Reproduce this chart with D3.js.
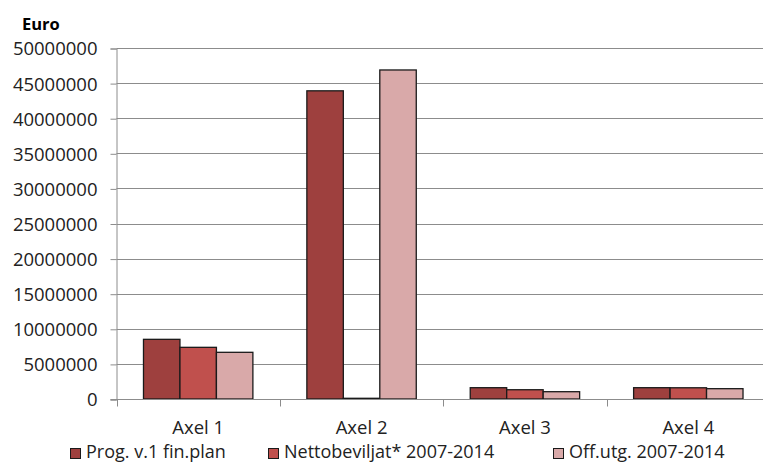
<!DOCTYPE html>
<html><head><meta charset="utf-8">
<script src="https://cdn.jsdelivr.net/npm/d3@7"></script>
<style>body{margin:0;background:#fff}svg{display:block}</style>
</head><body>
<script>
const categories = ["Axel 1", "Axel 2", "Axel 3", "Axel 4"];
const seriesNames = ["Prog. v.1 fin.plan", "Nettobeviljat* 2007-2014", "Off.utg. 2007-2014"];
const progValues = [8500000, 43900000, 1610000, 1610000];
const nettoValues = [7360000, 100000, 1320000, 1600000];
const offValues = [6650000, 46870000, 1040000, 1470000];
const yTicks = [0, 5000000, 10000000, 15000000, 20000000, 25000000, 30000000, 35000000, 40000000, 45000000, 50000000];
const colors = ["#9E403E", "#C0504D", "#D9A9A9"];

const W = 763, H = 464;
const m = {left: 116.5, top: 48, right: 770, bottom: 399};
const series = [progValues, nettoValues, offValues];

const svg = d3.select("body").append("svg").attr("width", W).attr("height", H);
const font = "'Open Sans', 'Liberation Sans', Arial, sans-serif";

const y = d3.scaleLinear().domain([0, 50000000]).range([m.bottom, m.top]);
const x = d3.scaleBand().domain(categories).range([m.left, m.right]);
const inner = d3.scaleBand().domain([0,1,2]).range([0, x.bandwidth()]).paddingOuter(0.74);

// gridlines
svg.append("g").selectAll("line").data(yTicks.filter(d => d > 0)).join("line")
  .attr("x1", m.left).attr("x2", W).attr("y1", d => Math.round(y(d)) + 0.5).attr("y2", d => Math.round(y(d)) + 0.5)
  .attr("stroke", "#8c8c8c").attr("stroke-width", 1);

// y axis
const yAxis = d3.axisLeft(y).tickValues(yTicks).tickSize(6).tickPadding(13).tickFormat(d => String(d));
const gy = svg.append("g").attr("transform", `translate(${m.left},0.5)`).call(yAxis);
gy.select(".domain").attr("stroke", "#8c8c8c");
gy.selectAll(".tick line").attr("stroke", "#8c8c8c");
gy.selectAll(".tick text").attr("font-family", font).attr("font-size", 18.5).attr("fill", "#222").attr("dy", "0.35em");

// bars
categories.forEach((c, ci) => {
  series.forEach((s, si) => {
    const x0 = x(c) + inner(si);
    svg.append("rect")
      .attr("x", x0).attr("y", y(s[ci]))
      .attr("width", inner.bandwidth()).attr("height", y(0) - y(s[ci]))
      .attr("fill", colors[si]).attr("stroke", "#1a1a1a").attr("stroke-width", 1.3);
  });
});

// x axis
const xAxis = d3.axisBottom(x).tickSize(0).tickPadding(21);
const gx = svg.append("g").attr("transform", `translate(0,${m.bottom + 0.5})`).call(xAxis);
gx.select(".domain").remove();
gx.append("line").attr("x1", m.left - 6).attr("x2", W).attr("y1", 0).attr("y2", 0).attr("stroke", "#8c8c8c");
gx.selectAll(".tick text").attr("font-family", font).attr("font-size", 18.5).attr("fill", "#222");
// category tick marks at band boundaries
const bounds = categories.map(c => x(c)).concat([m.right]);
gx.selectAll(".bt").data(bounds).join("line").attr("class", "bt")
  .attr("x1", d => Math.round(d) + 0.5).attr("x2", d => Math.round(d) + 0.5).attr("y1", 0).attr("y2", 7)
  .attr("stroke", "#8c8c8c");

// title
svg.append("text").attr("x", 22).attr("y", 30).text("Euro")
  .attr("font-family", font).attr("font-size", 16.5).attr("font-weight", "bold").attr("fill", "#000");

// legend
const legendX = [70, 268, 553];
const lg = svg.append("g");
seriesNames.forEach((n, i) => {
  lg.append("rect").attr("x", legendX[i] + 0.5).attr("y", 448.5).attr("width", 10).attr("height", 10)
    .attr("fill", colors[i]).attr("stroke", "#1a1a1a").attr("stroke-width", 1);
  lg.append("text").attr("x", legendX[i] + 16).attr("y", 458).text(n)
    .attr("font-family", font).attr("font-size", 18).attr("fill", "#222");
});
</script>
</body></html>
